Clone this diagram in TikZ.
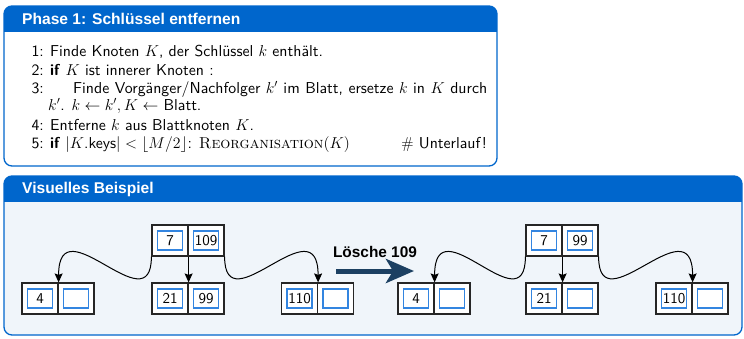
\RequirePackage{fix-cm}
\documentclass[tikz,border=0pt]{standalone}
\usepackage{fontspec}
\newfontfamily\headfont{Liberation Sans}
\newfontfamily\bodyfont{lmsans10}[Extension=.otf, UprightFont=*-regular, BoldFont=*-bold]
\usetikzlibrary{arrows.meta}
\definecolor{titleblue}{RGB}{0,102,204}
\definecolor{bodygray}{RGB}{240,245,250}
\definecolor{keyblue}{RGB}{51,133,224}
\definecolor{navy}{RGB}{28,64,98}
\tikzset{
  cell/.style={draw=black!85, fill=white, line width=1.2pt, minimum width=36pt, minimum height=31pt, inner sep=0pt},
  keybox/.style={draw=keyblue, fill=white, line width=1.2pt, minimum width=25pt, minimum height=19pt, inner sep=0pt, font=\bodyfont\fontsize{15}{17}\selectfont},
  link/.style={line width=1pt, -{Stealth[length=9pt,width=8pt,inset=1.5pt]}},
  algo/.style={anchor=base west, inner sep=0pt, font=\bodyfont\fontsize{15.8}{18}\selectfont},
  num/.style={anchor=base east, inner sep=0pt, font=\bodyfont\fontsize{15.8}{18}\selectfont},
  boxtitle/.style={anchor=west, inner sep=0pt, text=white, font=\headfont\bfseries\fontsize{15.6}{18}\selectfont}
}
\begin{document}
\begin{tikzpicture}[x=1pt,y=-1pt]
\useasboundingbox (0,0) rectangle (744,338);
% ---- box 1
\fill[white, rounded corners=8pt] (4,6) rectangle (497,166);
\begin{scope}
\clip[rounded corners=8pt] (4,6) rectangle (497,166);
\fill[titleblue] (4,6) rectangle (497,32);
\end{scope}
\draw[titleblue, line width=1.3pt, rounded corners=8pt] (4,6) rectangle (497,166);
\node[boxtitle] (t1) at (22,19) {Phase 1: Schlüssel entfernen};
% algorithm
\node[num] (n1) at (44,56.5) {1:};
\node[algo] (a1) at (50,56.5) {Finde Knoten $K$, der Schlüssel $k$ enthält.};
\node[num] (n2) at (44,75) {2:};
\node[algo] (a2) at (50,75) {\textbf{if} $K$ ist innerer Knoten :};
\node[num] (n3) at (44,93) {3:};
\node[algo] (a3) at (73,93) {\makebox[414pt][s]{Finde Vorgänger/Nachfolger $k'$ im Blatt, ersetze $k$ in $K$ durch}};
\node[algo] (a3b) at (48,110.5) {$k'$. $k \leftarrow k', K \leftarrow$ Blatt.};
\node[num] (n4) at (44,130) {4:};
\node[algo] (a4) at (50,130) {Entferne $k$ aus Blattknoten $K$.};
\node[num] (n5) at (44,148) {5:};
\node[algo] (a5) at (50,148) {\textbf{if} $|K$.keys$| < \lfloor M/2\rfloor$: {\rmfamily\textsc{Reorganisation}}$(K)$};
\node[num] (c5) at (487,148) {{\rmfamily\#} Unterlauf!};
% ---- box 2
\fill[bodygray, rounded corners=8pt] (4,176) rectangle (742,335);
\begin{scope}
\clip[rounded corners=8pt] (4,176) rectangle (742,335);
\fill[titleblue] (4,176) rectangle (742,202);
\end{scope}
\draw[titleblue, line width=1.3pt, rounded corners=8pt] (4,176) rectangle (742,335);
\node[boxtitle] (t2) at (22,189) {Visuelles Beispiel};
% ---- tree 1
\node[cell] (r1a) at (170,240.5) {};
\node[cell] (r1b) at (206,240.5) {};
\node[keybox] (k1) at (r1a) {7};
\node[keybox] (k2) at (r1b) {109};
\node[cell] (l1a) at (40,298.5) {};
\node[cell] (l1b) at (76,298.5) {};
\node[keybox] (k3) at (l1a) {4};
\node[keybox] (k4) at (l1b) {};
\node[cell] (m1a) at (170,298.5) {};
\node[cell] (m1b) at (206,298.5) {};
\node[keybox] (k5) at (m1a) {21};
\node[keybox] (k6) at (m1b) {99};
\node[cell] (q1a) at (299.5,298.5) {};
\node[cell] (q1b) at (335.5,298.5) {};
\node[keybox] (k7) at (q1a) {110};
\node[keybox] (k8) at (q1b) {};
\draw[link] (r1a.south west) .. controls +(0,70) and +(0,-80) .. (l1a.north east);
\draw[link] (r1a.south east) -- (m1a.north east);
\draw[link] (r1b.south east) .. controls +(0,70) and +(0,-80) .. (q1a.north east);
% ---- arrow
\node[anchor=base, inner sep=0pt, font=\headfont\bfseries\fontsize{15.4}{18}\selectfont] (lab) at (375,257) {Lösche 109};
\coordinate (ba) at (336,271);
\coordinate (bb) at (414,271);
\draw[navy, line width=5pt, -{Stealth[length=28pt,width=24pt,inset=7pt]}] (ba) -- (bb);
% ---- tree 2
\node[cell] (r2a) at (544,240.5) {};
\node[cell] (r2b) at (580,240.5) {};
\node[keybox] (j1) at (r2a) {7};
\node[keybox] (j2) at (r2b) {99};
\node[cell] (l2a) at (416,298.5) {};
\node[cell] (l2b) at (452,298.5) {};
\node[keybox] (j3) at (l2a) {4};
\node[keybox] (j4) at (l2b) {};
\node[cell] (m2a) at (544,298.5) {};
\node[cell] (m2b) at (580,298.5) {};
\node[keybox] (j5) at (m2a) {21};
\node[keybox] (j6) at (m2b) {};
\node[cell] (q2a) at (674,298.5) {};
\node[cell] (q2b) at (710,298.5) {};
\node[keybox] (j7) at (q2a) {110};
\node[keybox] (j8) at (q2b) {};
\draw[link] (r2a.south west) .. controls +(0,70) and +(0,-80) .. (l2a.north east);
\draw[link] (r2a.south east) -- (m2a.north east);
\draw[link] (r2b.south east) .. controls +(0,70) and +(0,-80) .. (q2a.north east);
\end{tikzpicture}
\end{document}
